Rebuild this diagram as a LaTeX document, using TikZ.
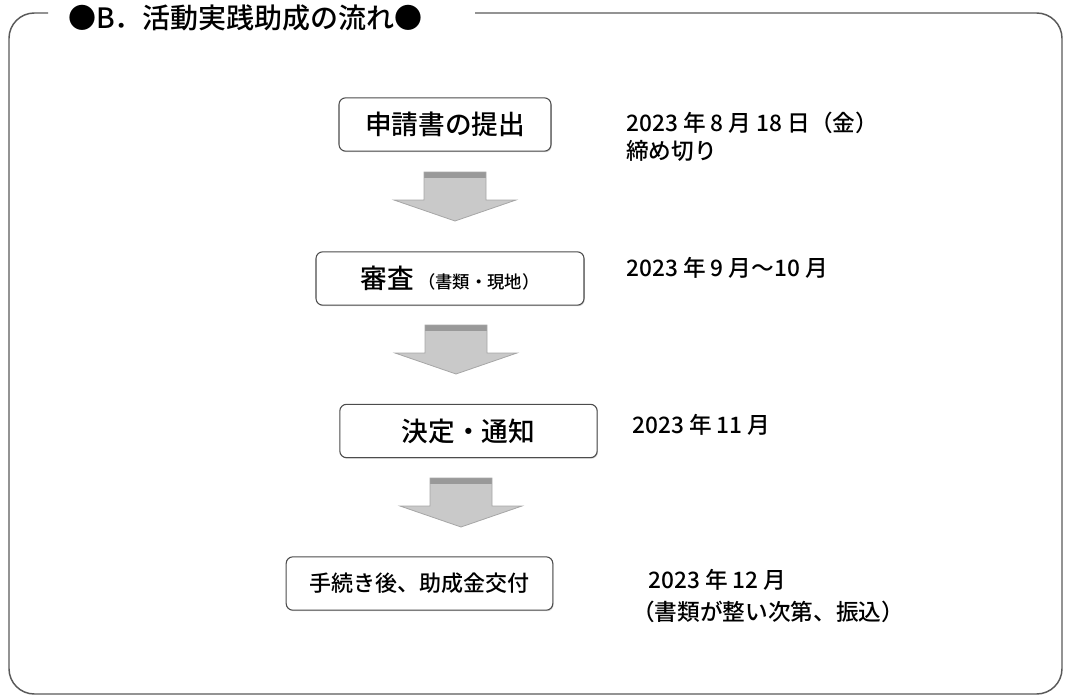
\documentclass[tikz,border=0pt]{standalone}
\usepackage{fontspec}
\setmainfont{Noto Sans CJK JP}[BoldFont={Noto Sans CJK JP Medium}]
\usetikzlibrary{shadows}

\tikzset{
    stepbox/.style={draw=black!70, line width=0.8pt, rounded corners=5pt, fill=white,
        drop shadow={shadow xshift=0.6pt, shadow yshift=-0.8pt, opacity=0.35},
        minimum height=40pt, inner sep=0pt, font=\bfseries\fontsize{20}{24}\selectfont},
    datetext/.style={anchor=west, align=left, inner sep=0pt, font=\bfseries\fontsize{17}{21}\selectfont},
    downarrow/.pic={
        \fill[gray!42] (-31,0) -- (31,0) -- (31,28) -- (61,28) -- (0,49) -- (-61,28) -- (-31,28) -- cycle;
        \fill[gray!80] (-31,0) rectangle (31,6);
        \draw[gray!70, line width=0.6pt] (-31,0) -- (31,0) -- (31,28) -- (61,28) -- (0,49) -- (-61,28) -- (-31,28) -- cycle;
    }
}

\begin{document}
\begin{tikzpicture}[x=0.75pt, y=-0.75pt]
    \useasboundingbox (0,0) rectangle (1065,696);

    % frame, open at the top for the title
    \draw[black!65, line width=1.1pt, rounded corners=19pt]
        (48,13) -- (9,13) -- (9,694) -- (1062,694) -- (1062,13) -- (475,13);
    \node[anchor=west, inner sep=0pt, font=\bfseries\fontsize{21}{24}\selectfont] (title) at (68,18) {●B．活動実践助成の流れ●};

    % steps
    \node[stepbox, minimum width=159pt] (apply) at (445,124.5) {申請書の提出};
    \node[stepbox, minimum width=201pt] (review) at (450,278.5) {審査\,{\fontsize{13}{16}\selectfont（書類・現地）}};
    \node[stepbox, minimum width=193pt] (decide) at (468.5,431) {決定・通知};
    \node[stepbox, minimum width=200pt, font=\bfseries\fontsize{16.5}{20}\selectfont] (grant) at (419.5,583.5) {手続き後、助成金交付};

    % arrows
    \pic at (455,172) {downarrow};
    \pic at (456,325) {downarrow};
    \pic at (461,478) {downarrow};

    % dates
    \node[datetext] (applydate) at (626,137) {2023 年 8 月 18 日（金）\\締め切り};
    \node[datetext] (reviewdate) at (626,268) {2023 年 9 月〜10 月};
    \node[datetext] (decidedate) at (632,425) {2023 年 11 月};
    \node[datetext] (grantdate) at (648,580) {2023 年 12 月};
    \node[datetext] (grantnote) at (632,612) {（書類が整い次第、振込）};

\end{tikzpicture}
\end{document}
